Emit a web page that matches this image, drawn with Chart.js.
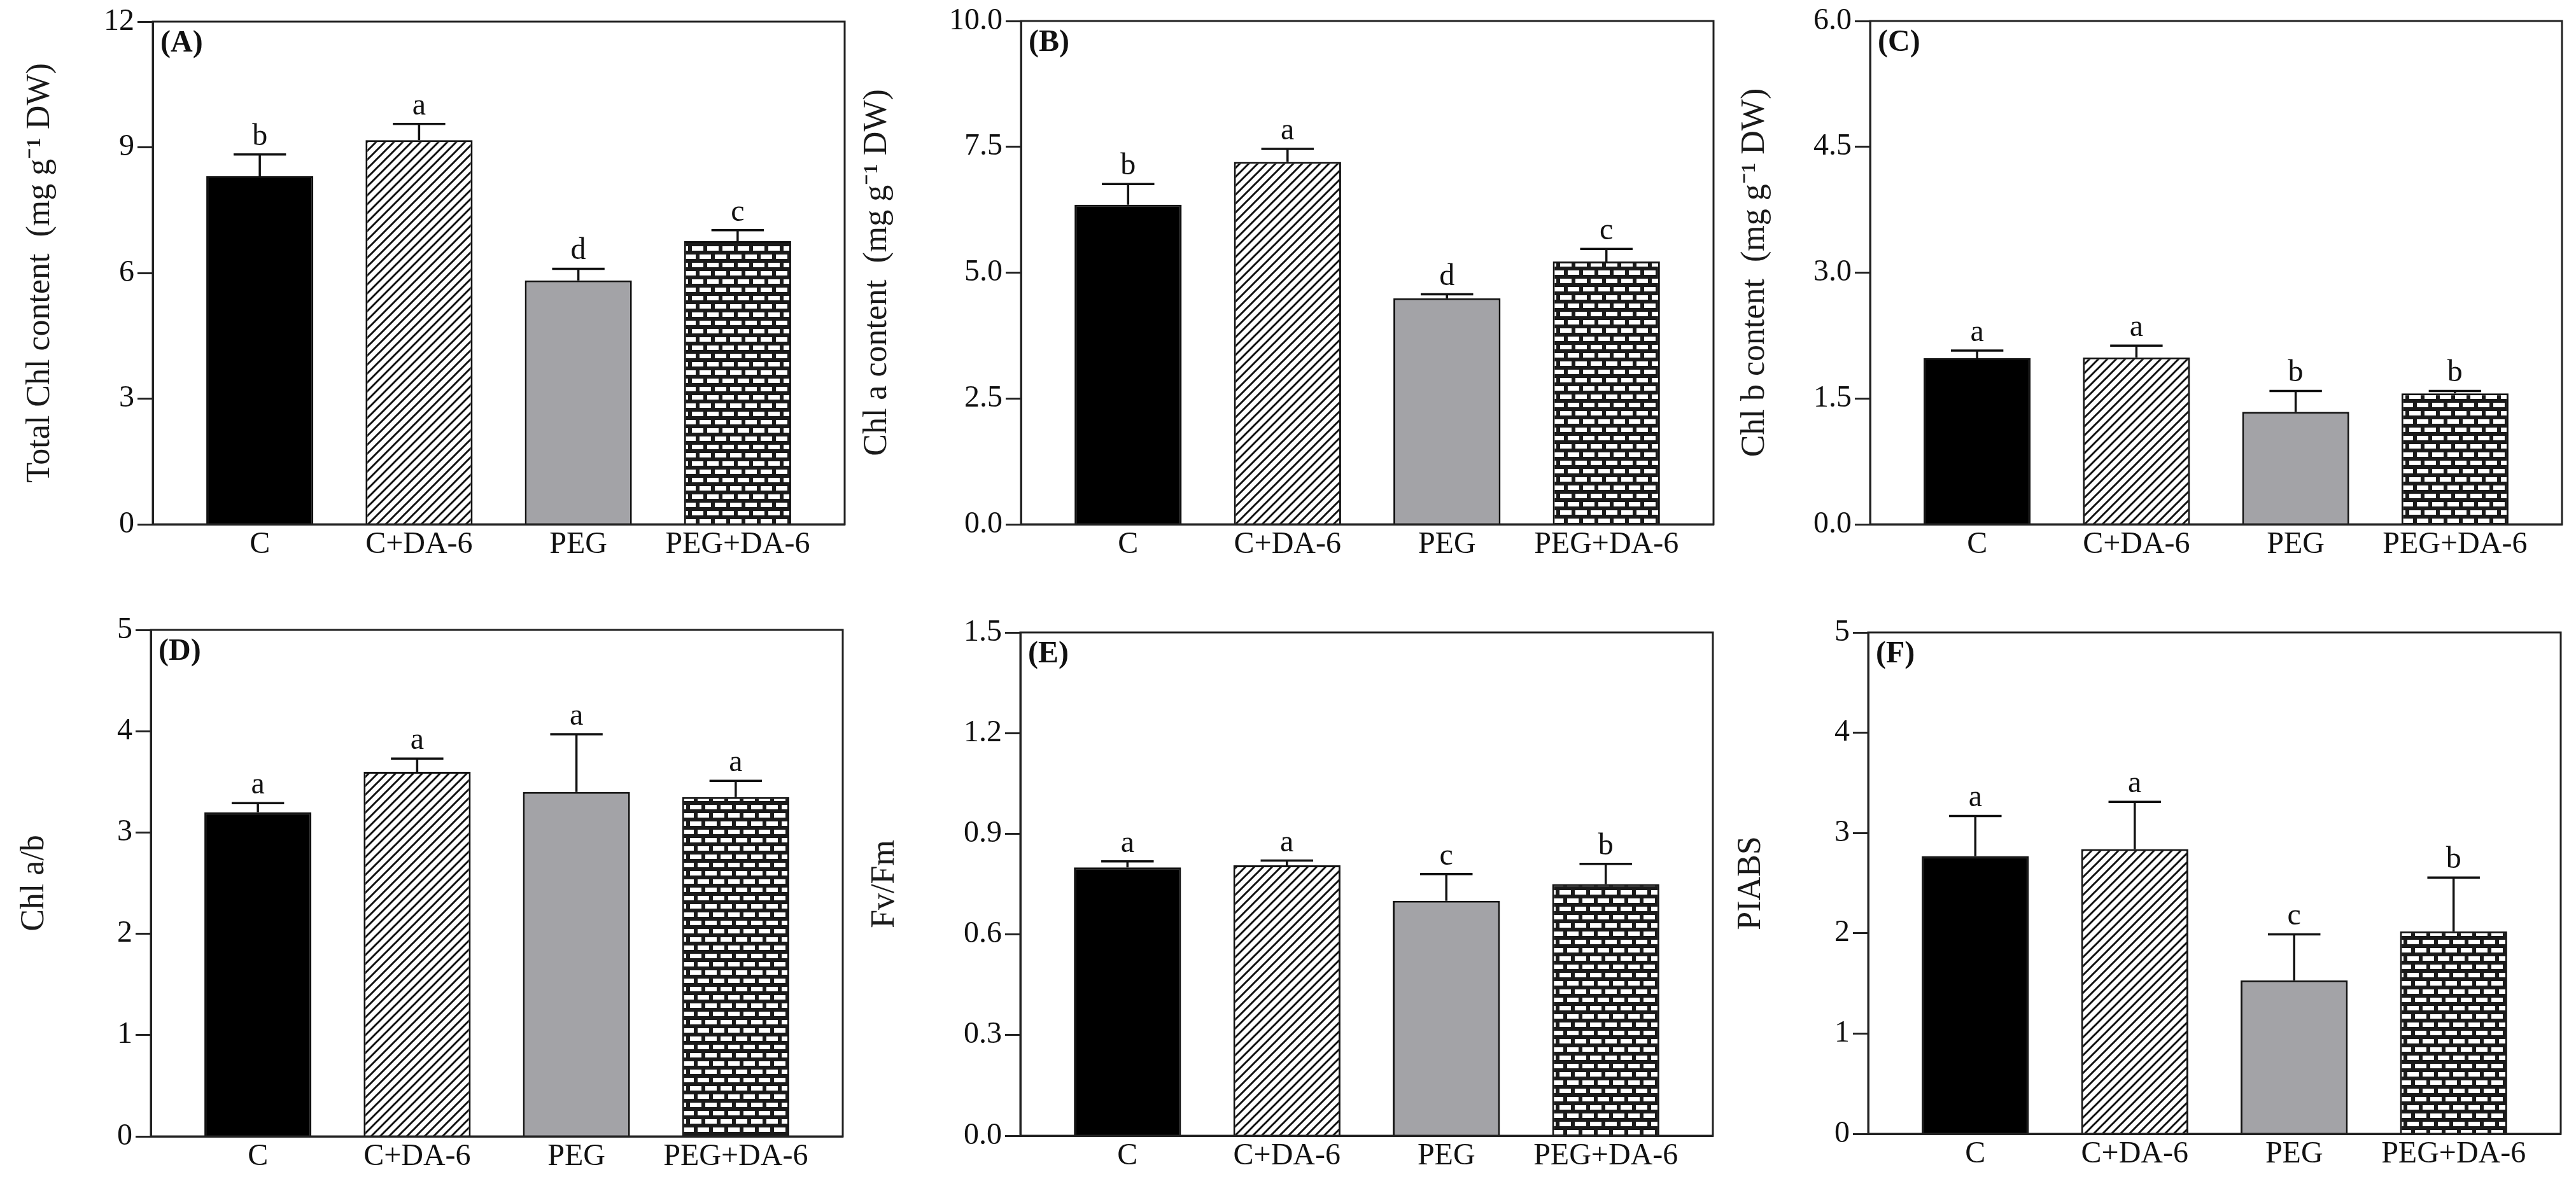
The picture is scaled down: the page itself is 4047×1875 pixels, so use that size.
<!DOCTYPE html>
<html>
<head>
<meta charset="utf-8">
<title>Chlorophyll and fluorescence panels</title>
<script src="https://cdn.jsdelivr.net/npm/chart.js@4.4.1/dist/chart.umd.min.js"></script>
<style>
  html, body { margin: 0; padding: 0; background: #fff; }
  #fig { position: relative; width: 4047px; height: 1875px; overflow: hidden; background: #fff; }
  #fig canvas { position: absolute; }
</style>
</head>
<body>
<div id="fig"></div>
<script>
// ---- data ----
const treatments = ['C', 'C+DA-6', 'PEG', 'PEG+DA-6'];

const totalChl = [8.31, 9.17, 5.82, 6.76];
const totalChlErr = [0.52, 0.39, 0.28, 0.26];
const totalChlLetters = ['b', 'a', 'd', 'c'];

const chlA = [6.35, 7.20, 4.49, 5.22];
const chlAErr = [0.41, 0.26, 0.08, 0.25];
const chlALetters = ['b', 'a', 'd', 'c'];

const chlB = [1.98, 1.99, 1.34, 1.56];
const chlBErr = [0.09, 0.14, 0.25, 0.03];
const chlBLetters = ['a', 'a', 'b', 'b'];

const chlRatio = [3.20, 3.60, 3.40, 3.35];
const chlRatioErr = [0.09, 0.13, 0.57, 0.16];
const chlRatioLetters = ['a', 'a', 'a', 'a'];

const fvfm = [0.80, 0.806, 0.70, 0.75];
const fvfmErr = [0.018, 0.014, 0.08, 0.06];
const fvfmLetters = ['a', 'a', 'c', 'b'];

const piabs = [2.77, 2.84, 1.53, 2.02];
const piabsErr = [0.40, 0.47, 0.46, 0.535];
const piabsLetters = ['a', 'a', 'c', 'b'];

// y axis ranges / tick steps / decimals per panel
const yMax = [12, 10, 6, 5, 1.5, 5];
const yStep = [3, 2.5, 1.5, 1, 0.3, 1];
const yDecimals = [0, 1, 1, 0, 1, 0];

// ---- layout ----
const FONT = '"Liberation Serif", "Times New Roman", serif';
const Y_AXIS_W = 260, X_AXIS_H = 90, PAD_TOP = 40, PAD_RIGHT = 25;
const TITLE_SIZE = 52;
const SIDE_GAP = 0.672;   // frame to first/last bar centre, in bar slots
const BAR_FRAC = 0.672;   // bar width as part of a slot

// plot frame in page pixels + centre of the y title
const boxes = [
  { left: 240,  top: 34,  right: 1327, bottom: 824,  titleX: 63 },
  { left: 1604, top: 33,  right: 2692, bottom: 824,  titleX: 1378 },
  { left: 2938, top: 33,  right: 4025, bottom: 824,  titleX: 2757 },
  { left: 237,  top: 990, right: 1324, bottom: 1786, titleX: 54 },
  { left: 1603, top: 994, right: 2691, bottom: 1785, titleX: 1390 },
  { left: 2935, top: 994, right: 4023, bottom: 1782, titleX: 2751 }
];

const panels = [
  { tag: '(A)', title: 'Total Chl content  (mg g\u207B\u00B9 DW)', values: totalChl, errors: totalChlErr, letters: totalChlLetters },
  { tag: '(B)', title: 'Chl a content  (mg g\u207B\u00B9 DW)', values: chlA, errors: chlAErr, letters: chlALetters },
  { tag: '(C)', title: 'Chl b content  (mg g\u207B\u00B9 DW)', values: chlB, errors: chlBErr, letters: chlBLetters },
  { tag: '(D)', title: 'Chl a/b', values: chlRatio, errors: chlRatioErr, letters: chlRatioLetters },
  { tag: '(E)', title: 'Fv/Fm', values: fvfm, errors: fvfmErr, letters: fvfmLetters },
  { tag: '(F)', title: 'PIABS', values: piabs, errors: piabsErr, letters: piabsLetters }
];

// ---- fill patterns ----
function hatchPattern() {
  const s = 14;
  const c = document.createElement('canvas');
  c.width = s; c.height = s;
  const g = c.getContext('2d');
  g.fillStyle = '#fff';
  g.fillRect(0, 0, s, s);
  g.strokeStyle = '#111';
  g.lineWidth = 3;
  g.beginPath();
  g.moveTo(-1, s + 1); g.lineTo(s + 1, -1);
  g.moveTo(-1, 1); g.lineTo(1, -1);
  g.moveTo(s - 1, s + 1); g.lineTo(s + 1, s - 1);
  g.stroke();
  return g.createPattern(c, 'repeat');
}

function brickPattern() {
  const c = document.createElement('canvas');
  c.width = 24; c.height = 26;
  const g = c.getContext('2d');
  g.fillStyle = '#1a1a1a';
  g.fillRect(0, 0, 24, 26);
  g.fillStyle = '#fff';
  g.fillRect(3, 3, 18, 7);
  g.fillRect(-9, 16, 18, 7);
  g.fillRect(15, 16, 18, 7);
  return g.createPattern(c, 'repeat');
}

const barFills = ['#000', hatchPattern(), '#a3a3a7', brickPattern()];

// error bars, significance letters, frame and panel tag
const panelDecor = {
  id: 'panelDecor',
  afterDatasetsDraw(chart, args, opts) {
    const { ctx, chartArea: a } = chart;
    const y = chart.scales.y;
    const meta = chart.getDatasetMeta(0);
    ctx.save();
    ctx.strokeStyle = '#111';
    ctx.fillStyle = '#111';
    ctx.lineWidth = 3.5;
    ctx.font = '48px ' + FONT;
    ctx.textAlign = 'center';
    ctx.textBaseline = 'alphabetic';
    meta.data.forEach((bar, i) => {
      const v = opts.values[i];
      const yTop = y.getPixelForValue(v);
      const yCap = y.getPixelForValue(v + opts.errors[i]);
      const half = bar.width * 0.245;
      ctx.beginPath();
      ctx.moveTo(bar.x, yTop);
      ctx.lineTo(bar.x, yCap);
      ctx.moveTo(bar.x - half, yCap);
      ctx.lineTo(bar.x + half, yCap);
      ctx.stroke();
      ctx.fillText(opts.letters[i], bar.x, yCap - 15);
    });
    ctx.strokeStyle = '#222';
    ctx.lineWidth = 3;
    ctx.strokeRect(a.left, a.top, a.right - a.left, a.bottom - a.top);
    ctx.font = 'bold 48px ' + FONT;
    ctx.textAlign = 'left';
    ctx.fillText(opts.tag, a.left + 12, a.top + 47);
    ctx.restore();
  }
};

const fig = document.getElementById('fig');

panels.forEach((p, k) => {
  const b = boxes[k];
  const canvas = document.createElement('canvas');
  const w = b.right - b.left + Y_AXIS_W + PAD_RIGHT;
  const h = b.bottom - b.top + PAD_TOP + X_AXIS_H;
  canvas.width = w;
  canvas.height = h;
  canvas.style.left = (b.left - Y_AXIS_W) + 'px';
  canvas.style.top = (b.top - PAD_TOP) + 'px';
  canvas.style.width = w + 'px';
  canvas.style.height = h + 'px';
  fig.appendChild(canvas);

  const titlePad = b.titleX - (b.left - Y_AXIS_W) - TITLE_SIZE * 1.2 / 2;

  new Chart(canvas.getContext('2d'), {
    type: 'bar',
    data: {
      datasets: [{
        data: p.values.map((v, i) => ({ x: i, y: v })),
        backgroundColor: barFills,
        borderColor: '#111',
        borderWidth: 3,
        categoryPercentage: 1,
        barPercentage: BAR_FRAC
      }]
    },
    options: {
      responsive: false,
      devicePixelRatio: 1,
      animation: false,
      events: [],
      layout: { padding: { left: 0, top: PAD_TOP, right: PAD_RIGHT, bottom: 0 } },
      plugins: {
        legend: { display: false },
        tooltip: { enabled: false },
        panelDecor: { values: p.values, errors: p.errors, letters: p.letters, tag: p.tag }
      },
      scales: {
        x: {
          type: 'linear',
          offset: false,
          min: -SIDE_GAP,
          max: treatments.length - 1 + SIDE_GAP,
          afterBuildTicks: s => { s.ticks = treatments.map((t, i) => ({ value: i })); },
          afterFit: s => { s.height = X_AXIS_H; },
          grid: { offset: false, drawOnChartArea: false, drawTicks: false },
          border: { color: '#222', width: 3 },
          ticks: {
            autoSkip: false,
            maxRotation: 0,
            padding: 4,
            color: '#111',
            font: { family: FONT, size: 48 },
            callback: v => treatments[v]
          }
        },
        y: {
          min: 0,
          max: yMax[k],
          afterFit: s => { s.width = Y_AXIS_W; },
          grid: { drawOnChartArea: false, tickLength: 24, tickWidth: 3, tickColor: '#222' },
          border: { color: '#222', width: 3 },
          ticks: {
            stepSize: yStep[k],
            padding: 5,
            color: '#111',
            font: { family: FONT, size: 48 },
            callback: v => Number(v).toFixed(yDecimals[k])
          },
          title: {
            display: true,
            text: p.title,
            color: '#1a1a1a',
            font: { family: FONT, size: TITLE_SIZE },
            padding: { top: titlePad, bottom: 0 }
          }
        }
      }
    },
    plugins: [panelDecor]
  });
});
</script>
</body>
</html>
